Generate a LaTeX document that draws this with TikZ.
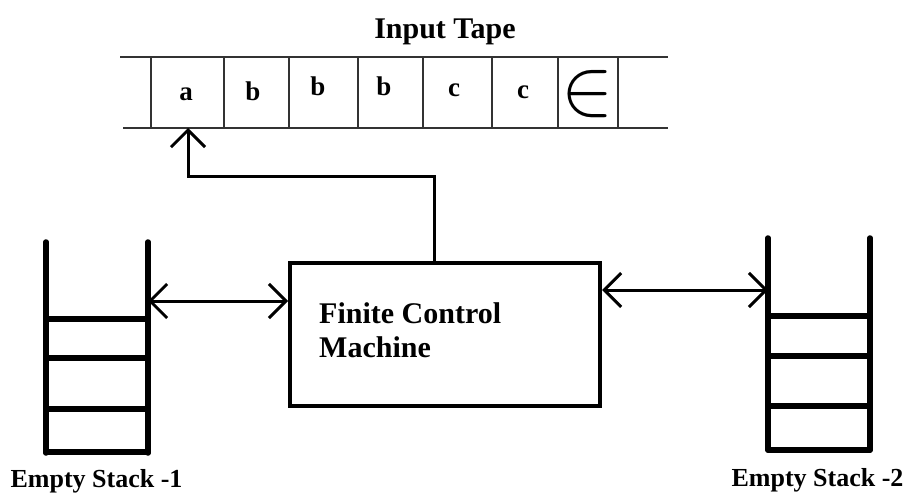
\documentclass[tikz,border=0pt]{standalone}
\usepackage{fontspec}
\setmainfont{Liberation Serif}
\usetikzlibrary{arrows.meta}
\tikzset{
  tapeline/.style={line width=1.3pt, draw=black!80},
  conn/.style={line width=3pt},
  barb/.tip={Straight Barb[length=17pt,width=34pt]},
  stackline/.style={line width=5.5pt, line cap=round},
  lbl/.style={font=\fontsize{26}{30}\selectfont\bfseries, inner sep=0pt, anchor=base},
  cell/.style={font=\fontsize{27}{30}\selectfont\bfseries, inner sep=0pt, anchor=base},
  machine/.style={draw, line width=4pt, minimum width=310pt, minimum height=143pt, inner sep=0pt},
}
\begin{document}
\begin{tikzpicture}[x=1pt,y=-1pt]
\useasboundingbox (0,0) rectangle (904,494);

% title
\node[font=\fontsize{30}{34}\selectfont\bfseries, inner sep=0pt, anchor=base] (title) at (445,39) {Input Tape};

% input tape
\draw[tapeline] (120,57) -- (668,57);
\draw[tapeline] (123,128) -- (668,128);
\foreach \x in {151,224,289,358,423,492,558,618}
  \draw[tapeline] (\x,57) -- (\x,128);

\node[cell] (ca) at (186,101) {a};
\node[cell] (cb1) at (253,101) {b};
\node[cell] (cb2) at (318,96) {b};
\node[cell] (cb3) at (384,96) {b};
\node[cell] (cc1) at (454,97) {c};
\node[cell] (cc2) at (523,99) {c};
\node[inner sep=0pt] (ceps) at (588,94) {\resizebox{52pt}{44pt}{$\in$}};

% finite control
\node[machine] (fcm) at (445,334.5) {};
\node[font=\fontsize{30}{34}\selectfont\bfseries, align=left, anchor=north west, inner sep=0pt] (fcmtext) at (319,302) {Finite Control\\Machine};

% read head
\coordinate (head) at (188,128);
\coordinate (bend) at (188,177);
\draw[conn, -{barb}] ([xshift=-11pt]fcm.north) |- (bend) -- (head);

% stack 1
\draw[stackline] (46,242) -- (46,453);
\draw[stackline] (148,242) -- (148,453);
\foreach \y in {319,358,409,452}
  \draw[stackline] (46,\y) -- (148,\y);
\coordinate (s1) at (148,301);
\node[lbl] (lab1) at (96.5,487) {Empty Stack -1};

% stack 2
\draw[stackline] (768,238) -- (768,450);
\draw[stackline] (870,238) -- (870,450);
\foreach \y in {316,356,406,450}
  \draw[stackline] (768,\y) -- (870,\y);
\coordinate (s2) at (768,290);
\node[lbl] (lab2) at (817.5,486) {Empty Stack -2};

% stack connections
\draw[conn, {barb}-{barb}] (s1) -- (fcm.west |- s1);
\draw[conn, {barb}-{barb}] (fcm.east |- s2) -- (s2);
\end{tikzpicture}
\end{document}
